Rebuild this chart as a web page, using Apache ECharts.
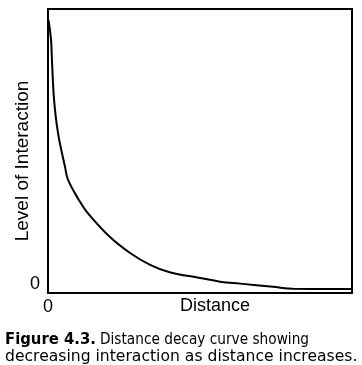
<!DOCTYPE html>
<html><head><meta charset="utf-8">
<script src="https://cdn.jsdelivr.net/npm/echarts@6/dist/echarts.min.js"></script>
<style>html,body{margin:0;padding:0;background:#fff}#c{width:362px;height:365px}</style>
</head><body><div id="c"></div>
<script>
// distance (0-100) and level of interaction (0-100)
const distance = [0.2, 1.0, 1.3, 2.0, 3.3, 5.6, 6.6, 10.2, 12.8, 20.4, 27.0, 33.6, 40.0, 50.0, 56.6, 63.2, 74.0, 80.6, 100];
const interaction = [96.0, 89.1, 82.0, 68.0, 56.3, 44.4, 39.8, 32.7, 28.5, 19.7, 14.1, 9.9, 7.3, 5.3, 4.0, 3.3, 2.2, 1.5, 1.4];
const xTickLabels = ['0'];
const yTickLabels = ['0'];
const xName = 'Distance';
const yName = 'Level of Interaction';
const captionBold = 'Figure 4.3.';
const captionLine1 = 'Distance decay curve showing';
const captionLine2 = 'decreasing interaction as distance increases.';

const chart = echarts.init(document.getElementById('c'), null, {renderer: 'canvas'});
const font = 'Liberation Sans, Arial, sans-serif';
const capFont = 'DejaVu Sans, sans-serif';
chart.setOption({
  animation: false,
  grid: {left: 48, right: 10, top: 9, bottom: 72, show: true, borderColor: '#000', borderWidth: 2,
    backgroundColor: 'transparent', containLabel: false, outerBoundsMode: 'none'},
  xAxis: {
    type: 'value', min: 0, max: 100, interval: 100,
    axisLine: {show: true, lineStyle: {color: '#000', width: 2}},
    axisTick: {show: false}, splitLine: {show: false},
    axisLabel: {color: '#000', fontSize: 18, fontFamily: font, margin: 5,
      formatter: v => v === 0 ? xTickLabels[0] : ''},
    name: xName, nameLocation: 'middle', nameGap: 4, nameMoveOverlap: false,
    nameTextStyle: {color: '#000', fontSize: 18, fontFamily: font, verticalAlign: 'top', padding: [0, 0, 0, 30]}
  },
  yAxis: {
    type: 'value', min: 0, max: 100, interval: 100,
    axisLine: {show: true, lineStyle: {color: '#000', width: 2}},
    axisTick: {show: false}, splitLine: {show: false},
    axisLabel: {color: '#000', fontSize: 18, fontFamily: font, margin: 8,
      formatter: v => v === 0 ? yTickLabels[0] : '', verticalAlign: 'bottom'},
    name: yName, nameLocation: 'middle', nameGap: 16, nameRotate: 90, nameMoveOverlap: false,
    nameTextStyle: {color: '#000', fontSize: 19, fontFamily: font, padding: [0, 20, 0, 0]}
  },
  series: [{
    type: 'line', data: distance.map((d, i) => [d, interaction[i]]),
    showSymbol: false, smooth: 0.4,
    lineStyle: {color: '#000', width: 2}
  }],
  graphic: [
    {type: 'text', x: 5, y: 340, scaleX: 0.99, style: {
      text: captionBold, font: 'bold 15px ' + capFont, fill: '#000', verticalAlign: 'middle'}},
    {type: 'text', x: 100, y: 340, scaleX: 0.913, style: {
      text: captionLine1, font: '15px ' + capFont, fill: '#000', verticalAlign: 'middle'}},
    {type: 'text', x: 5, y: 357, scaleX: 1.04, style: {
      text: captionLine2, font: '15px ' + capFont, fill: '#000', verticalAlign: 'middle'}}
  ]
});
</script></body></html>
